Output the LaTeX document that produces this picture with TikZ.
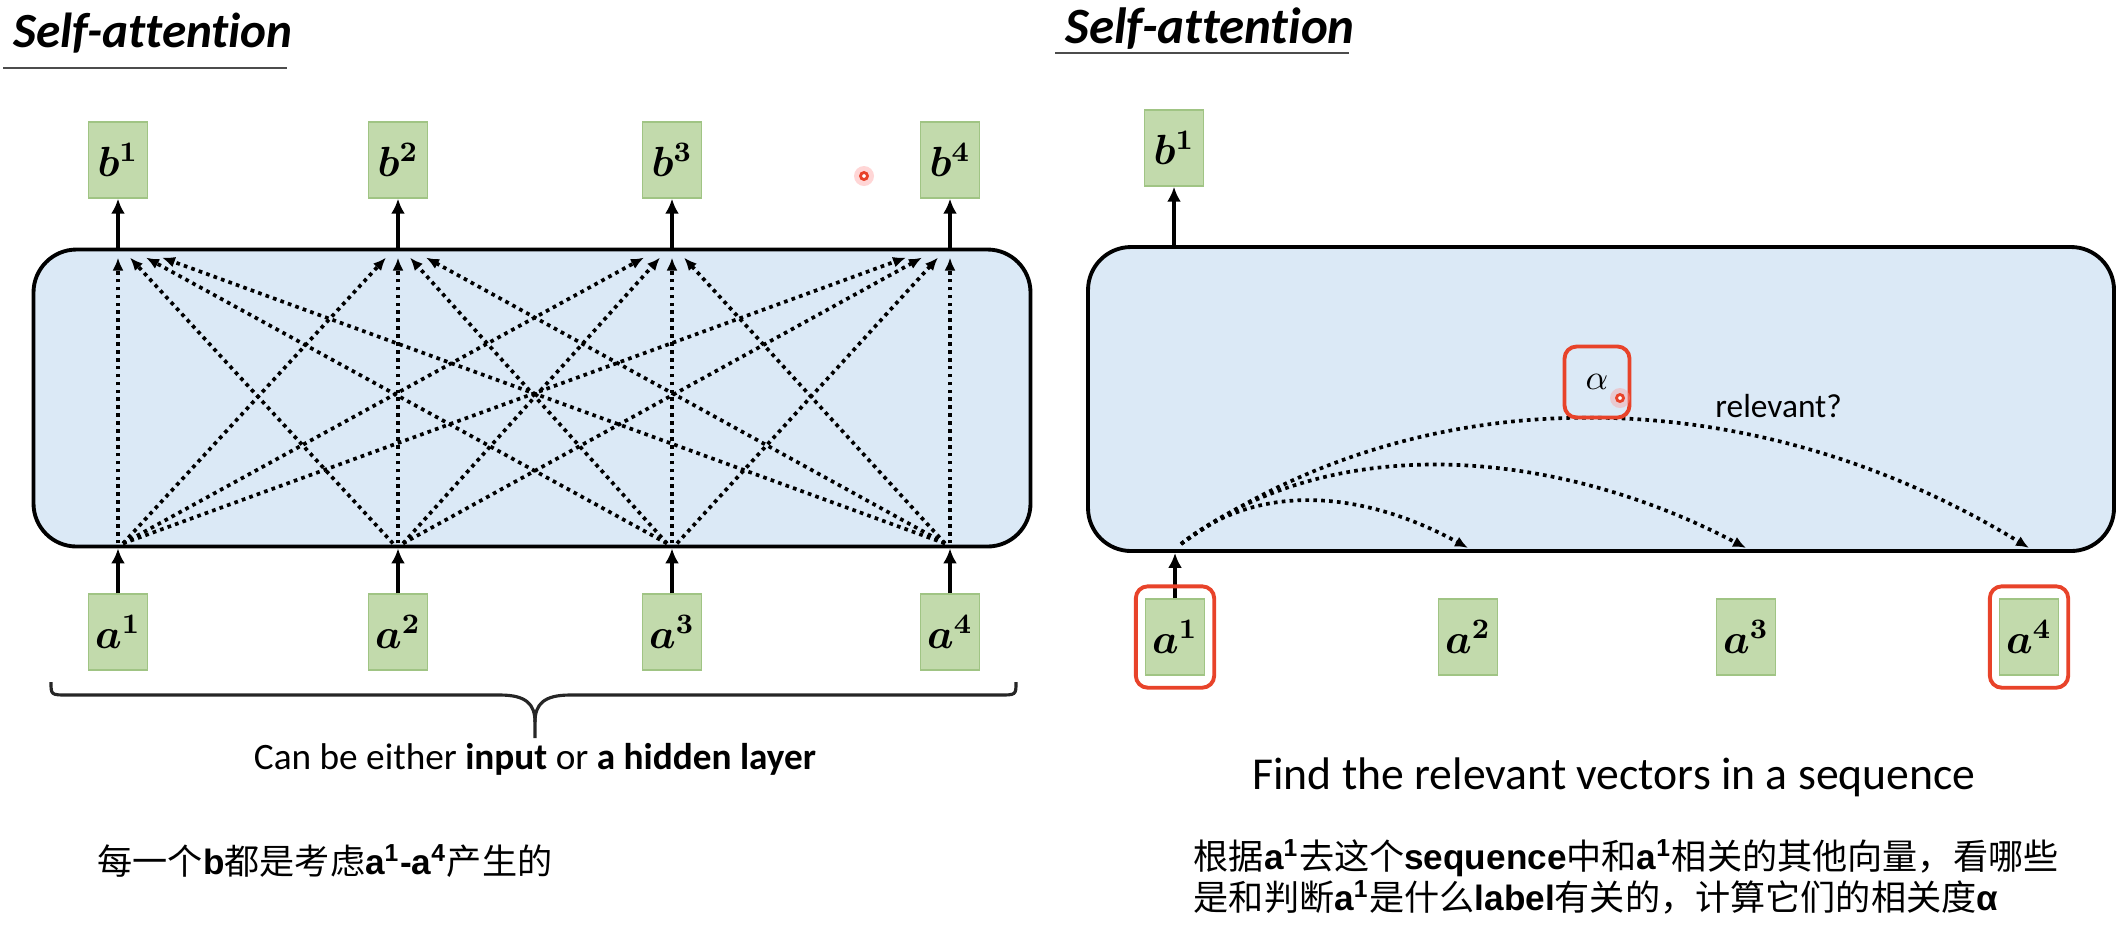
\documentclass[tikz,border=0pt]{standalone}
\usepackage{fontspec}
\setmainfont{Carlito}[Ligatures=NoCommon]
\newfontfamily\cjk{Noto Sans CJK SC}
\newfontfamily\arialfont{Liberation Sans}
\usetikzlibrary{arrows.meta, calc, positioning, fit}

\definecolor{layerblue}{RGB}{219,233,246}
\definecolor{vecgreen}{RGB}{194,218,172}
\definecolor{vecline}{RGB}{160,196,132}
\definecolor{hired}{RGB}{232,67,42}

\newcommand{\lat}[1]{{\arialfont\bfseries #1}}

\tikzset{
  vec/.style={draw=vecline, fill=vecgreen, minimum width=5.9mm, minimum height=7.6mm,
    inner sep=0pt, font=\fontsize{12}{14}\selectfont\boldmath},
  layer/.style={draw, line width=1.1pt, fill=layerblue, rounded corners=4.3mm},
  feed/.style={line width=1pt, -{Latex[length=1.5mm,width=1.4mm]}},
  attn/.style={line width=1.05pt, dash pattern=on 1.05pt off 1.2pt,
    -{Latex[length=1.3mm,width=1.1mm]}},
  hilite/.style={draw=hired, line width=1.1pt, rounded corners=1.2mm},
  title/.style={anchor=base west, font=\fontsize{14}{16}\selectfont\bfseries\itshape},
  rule/.style={gray!60!black, line width=0.6pt},
  brace/.style={black!85, line width=0.9pt},
}

\begin{document}
\begin{tikzpicture}[x=0.1mm, y=-0.1mm]
  \useasboundingbox (0,0) rectangle (2118,936);

  % left panel
  \node[title] (ltitle) at (1,47) {Self-attention};
  \draw[rule] (3,68) -- (287,68);

  \node[layer, minimum width=99.7mm, minimum height=29.7mm] (L) at (532,398) {};
  \foreach \i/\x in {1/118, 2/398, 3/672, 4/950} {
    \node[vec] (lb\i) at (\x,160) {$b^{\i}$};
    \node[vec] (la\i) at (\x,632) {$a^{\i}$};
    \draw[feed] (la\i.north) -- (la\i.north |- L.south);
    \draw[feed] (lb\i.south |- L.north) -- (lb\i.south);
  }
  \foreach \s in {1,...,4}
    \foreach \t in {1,...,4} {
      \pgfmathsetmacro{\dir}{(\s>\t)-(\s<\t)}
      \pgfmathsetmacro{\from}{-5*\dir}
      \pgfmathsetmacro{\to}{16*\s-16*\t-4*\dir}
      \draw[attn] ($(la\s.north |- L.south)+(\from,-5)$)
        -- ($(lb\t.south |- L.north)+(\to,10)$);
    }

  \draw[brace] (51,682) .. controls (51,695) .. (68,695) -- (500,695)
    .. controls (526,695) and (535,704) .. (535,722) -- (535,738);
  \draw[brace] (1016,682) .. controls (1016,695) .. (999,695) -- (570,695)
    .. controls (544,695) and (535,704) .. (535,722);
  \node[anchor=base, font=\fontsize{10.6}{12}\selectfont] (lcap) at (535,769)
    {Can be either \textbf{input} or \textbf{a hidden layer}};

  \node[anchor=west, inner sep=0pt, font=\cjk\fontsize{10}{10.5}\selectfont] (lnote) at (97,861)
    {每一个\lat{b}都是考虑\lat{a\textsuperscript{1}-a\textsuperscript{4}}产生的};

  \fill[red!40, opacity=0.4] (864,176) circle (1mm);
  \draw[hired, line width=0.8pt, fill=white] (864,176) circle (0.35mm);

  % right panel
  \node[title, font=\fontsize{14.5}{16}\selectfont\bfseries\itshape] (rtitle) at (1053,43) {Self-attention};
  \draw[rule] (1055,53) -- (1349,53);

  \node[layer, minimum width=102.6mm, minimum height=30.4mm] (R) at (1601,399) {};
  \node[vec] (rb1) at (1174,148) {$b^{1}$};
  \draw[feed] (rb1.south |- R.north) -- (rb1.south);
  \foreach \i/\x in {1/1175, 2/1468, 3/1746, 4/2029}
    \node[vec] (ra\i) at (\x,637) {$a^{\i}$};
  \draw[feed] (ra1.north) -- (ra1.north |- R.south);

  \coordinate (src) at ($(ra1.north |- R.south)+(6,-9)$);
  \draw[attn] (src) .. controls +(80,-65) and +(-100,-55) .. ($(ra2.north |- R.south)+(0,-5)$);
  \draw[attn] (src) .. controls +(150,-115) and +(-190,-100) .. ($(ra3.north |- R.south)+(0,-5)$);
  \draw[attn] (src) .. controls +(250,-175) and +(-270,-165) .. ($(ra4.north |- R.south)+(0,-5)$);

  \node[hilite, fit=(ra1), inner xsep=0.9mm, inner ysep=1.2mm] (h1) {};
  \node[hilite, fit=(ra4), inner xsep=0.9mm, inner ysep=1.2mm] (h4) {};
  \node[hilite, minimum width=6.5mm, minimum height=7.1mm, font=\fontsize{10}{12}\selectfont] (alpha) at (1597,382) {$\alpha$};
  \node[anchor=base west, font=\fontsize{9.5}{11}\selectfont] (rel) at (1703,417) {relevant?};

  \fill[red!40, opacity=0.4] (1620,398) circle (1mm);
  \draw[hired, line width=0.8pt, fill=white] (1620,398) circle (0.35mm);

  \node[font=\fontsize{13}{15}\selectfont] (rcap) at (1614,777) {Find the relevant vectors in a sequence};

  \node[anchor=west, align=left, inner sep=0pt, font=\cjk\fontsize{10}{10.5}\selectfont] (rnote) at (1193,877)
    {根据\lat{a\textsuperscript{1}}去这个\lat{sequence}中和\lat{a\textsuperscript{1}}相关的其他向量，看哪些\\
     是和判断\lat{a\textsuperscript{1}}是什么\lat{label}有关的，计算它们的相关度\lat{α}};
\end{tikzpicture}
\end{document}
